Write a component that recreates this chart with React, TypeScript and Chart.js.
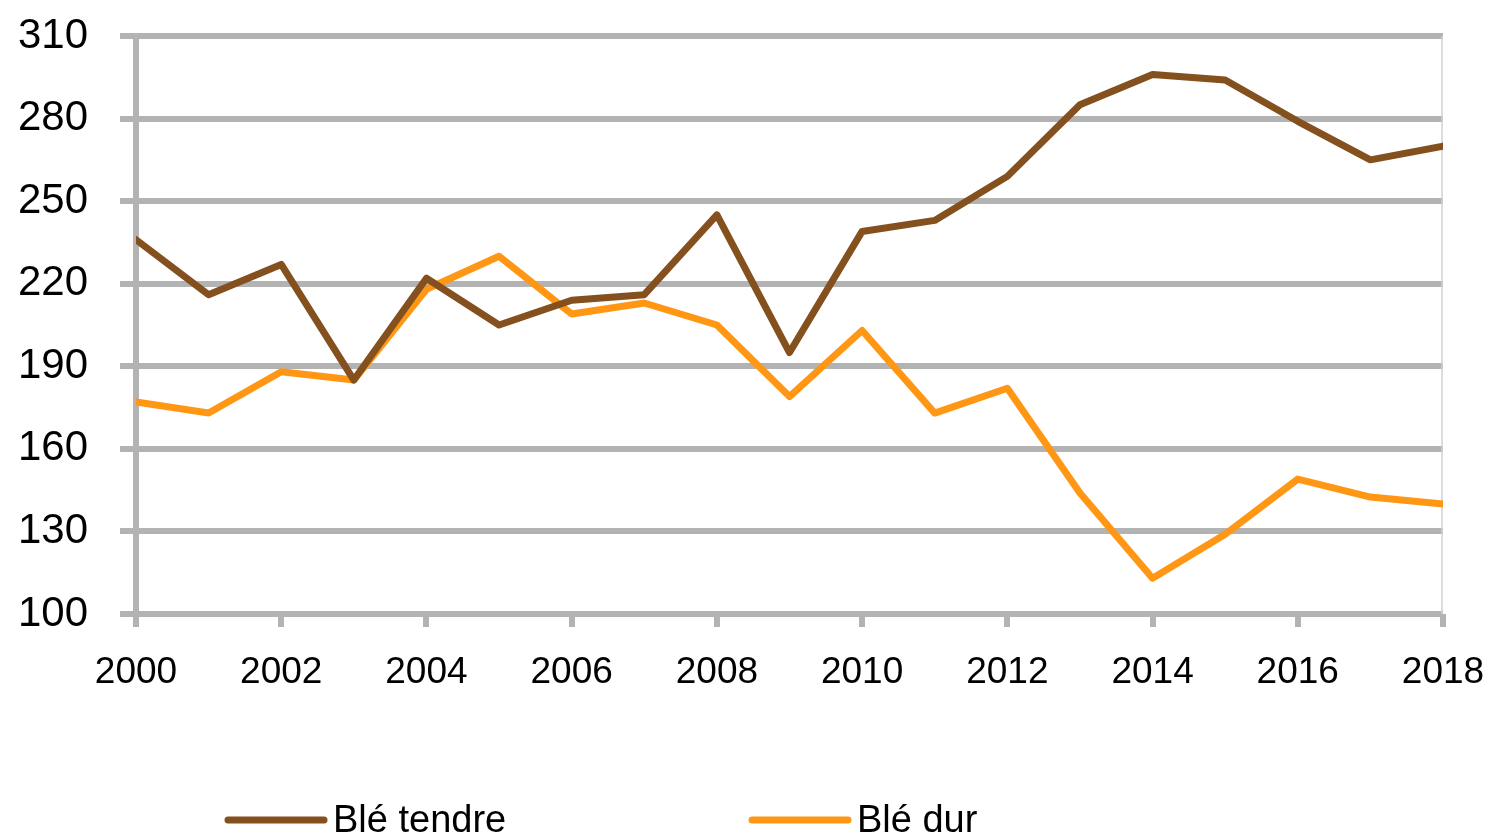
import React, { useEffect, useRef } from "react";
import { Chart, registerables } from "chart.js";

Chart.register(...registerables);

const years = [2000, 2001, 2002, 2003, 2004, 2005, 2006, 2007, 2008, 2009, 2010, 2011, 2012, 2013, 2014, 2015, 2016, 2017, 2018];
const bleTendre = [236, 216, 227, 185, 222, 205, 214, 216, 245, 195, 239, 243, 259, 285, 296, 294, 279, 265, 270];
const bleDur = [177, 173, 188, 185, 218, 230, 209, 213, 205, 179, 203, 173, 182, 144, 113, 129, 149, 142.5, 140];
const seriesNames = ["Blé tendre", "Blé dur"];
const seriesColors = ["#83501E", "#FF9714"];
const yMin = 100;
const yMax = 310;
const yStep = 30;
const xStep = 2;

const FONT = "'Liberation Sans', Arial, sans-serif";

const legendPlugin = {
  id: "customLegend",
  afterDraw(chart: any) {
    const ctx = chart.ctx;
    const positions = [228, 752];
    const y = 820;
    ctx.save();
    chart.data.datasets.forEach((ds: any, i: number) => {
      const x0 = positions[i];
      ctx.strokeStyle = ds.borderColor;
      ctx.lineWidth = 7;
      ctx.lineCap = "round";
      ctx.beginPath();
      ctx.moveTo(x0, y);
      ctx.lineTo(x0 + 96, y);
      ctx.stroke();
      ctx.fillStyle = "#000";
      ctx.font = `38px ${FONT}`;
      ctx.textBaseline = "middle";
      ctx.textAlign = "left";
      ctx.fillText(ds.label, x0 + 105, y + 2);
    });
    ctx.restore();
  },
};

const rightBorderPlugin = {
  id: "rightBorder",
  beforeDatasetsDraw(chart: any) {
    const { ctx, chartArea } = chart;
    ctx.save();
    ctx.strokeStyle = "#D0D0D0";
    ctx.lineWidth = 1.5;
    ctx.beginPath();
    ctx.moveTo(chartArea.right - 1, chartArea.top);
    ctx.lineTo(chartArea.right - 1, chartArea.bottom);
    ctx.stroke();
    ctx.restore();
  },
};

export default function App() {
  const ref = useRef<HTMLCanvasElement | null>(null);
  useEffect(() => {
    document.body.style.margin = "0";
    const canvas = ref.current;
    if (!canvas) return;
    const chart = new Chart(canvas, {
      type: "line",
      data: {
        datasets: [
          {
            label: seriesNames[0],
            data: years.map((yr, i) => ({ x: yr, y: bleTendre[i] })),
            borderColor: seriesColors[0],
            backgroundColor: seriesColors[0],
            borderWidth: 7,
            pointRadius: 0,
            tension: 0,
            borderJoinStyle: "round",
            borderCapStyle: "round",
          },
          {
            label: seriesNames[1],
            data: years.map((yr, i) => ({ x: yr, y: bleDur[i] })),
            borderColor: seriesColors[1],
            backgroundColor: seriesColors[1],
            borderWidth: 7,
            pointRadius: 0,
            tension: 0,
            borderJoinStyle: "round",
            borderCapStyle: "round",
          },
        ],
      },
      options: {
        animation: false,
        responsive: false,
        maintainAspectRatio: false,
        layout: { padding: { left: 17, right: 49, top: 36, bottom: 142 } },
        plugins: {
          legend: { display: false },
          tooltip: { enabled: false },
        },
        scales: {
          x: {
            type: "linear",
            min: years[0],
            max: years[years.length - 1],
            ticks: {
              stepSize: xStep,
              color: "#000",
              font: { family: FONT, size: 37 },
              padding: 24,
              maxRotation: 0,
              callback: (v: any) => String(v),
            },
            grid: {
              drawOnChartArea: false,
              drawTicks: true,
              tickLength: 13,
              color: "#B3B3B3",
              lineWidth: 6,
            },
            border: { display: false },
            afterFit: (scale: any) => {
              scale.paddingLeft = 0;
              scale.paddingRight = 0;
              scale.height = 81;
            },
          },
          y: {
            min: yMin,
            max: yMax,
            ticks: {
              stepSize: yStep,
              color: "#000",
              font: { family: FONT, size: 42 },
              padding: 32,
            },
            grid: {
              color: "#B3B3B3",
              lineWidth: 6,
              tickLength: 16,
            },
            border: { display: true, color: "#B3B3B3", width: 6 },
            afterFit: (scale: any) => {
              scale.paddingTop = 0;
              scale.paddingBottom = 0;
              scale.width = 119;
            },
          },
        },
      },
      plugins: [rightBorderPlugin, legendPlugin],
    });
    return () => chart.destroy();
  }, []);
  return (
    <div style={{ width: 1492, height: 837, background: "#fff" }}>
      <canvas ref={ref} width={1492} height={837} style={{ display: "block" }} />
    </div>
  );
}
